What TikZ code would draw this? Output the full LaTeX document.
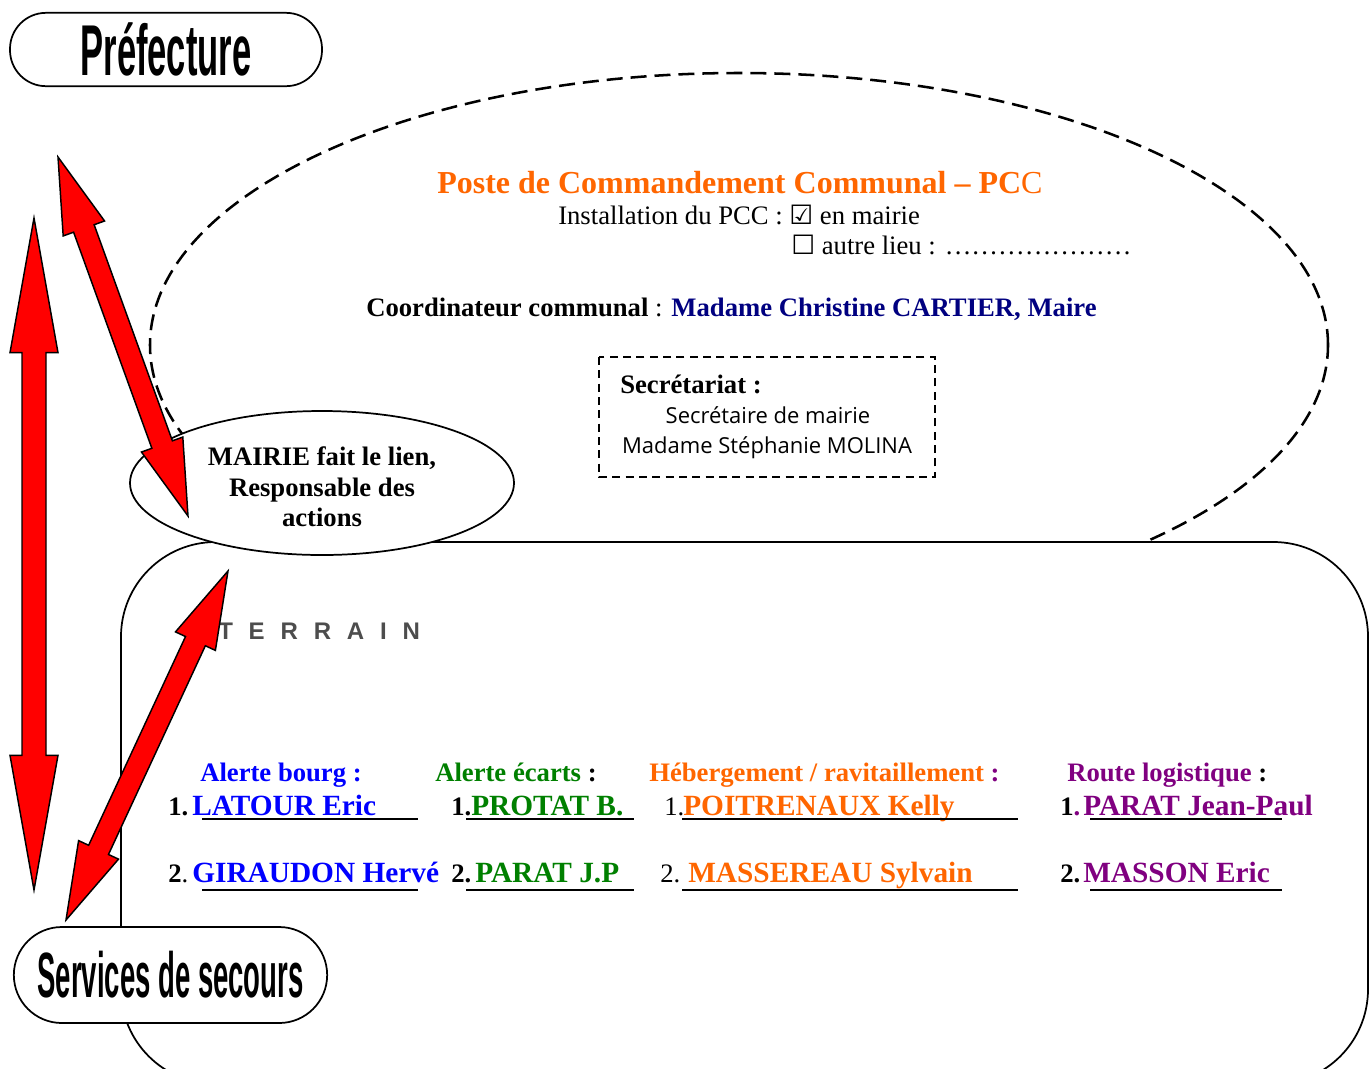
\documentclass[tikz,border=0pt]{standalone}
\usepackage{fontspec}
\setmainfont{Liberation Serif}
\newfontfamily\symf{DejaVu Sans}
\newfontfamily\condA[FakeStretch=0.48]{Liberation Sans}
\newfontfamily\condB[FakeStretch=0.43]{Liberation Sans}
\newfontfamily\comicf{Open Sans}
\newfontfamily\terf[LetterSpace=66]{Liberation Sans}
\usetikzlibrary{shapes.geometric,calc}
\definecolor{pccorange}{RGB}{255,102,0}
\definecolor{pblue}{RGB}{0,0,255}
\definecolor{pgreen}{RGB}{0,128,0}
\definecolor{ppurple}{RGB}{128,0,128}
\definecolor{pnavy}{RGB}{0,0,128}
\definecolor{pred}{RGB}{255,0,0}
\definecolor{pgray}{RGB}{77,77,77}
\newcommand\fsT{\fontsize{24pt}{28pt}\selectfont}
\newcommand\fsI{\fontsize{20pt}{23pt}\selectfont}
\newcommand\fsH{\fontsize{20pt}{23pt}\selectfont}
\newcommand\fsN{\fontsize{22pt}{26pt}\selectfont}
\newcommand\fsBox{\symf\fontsize{20pt}{20pt}\selectfont}
\newcommand{\dblarrow}[5]{%
  \draw[redarrow] (#1)
  -- ($(#1)!#3!(#2)!#4!90:(#2)$)
  -- ($(#1)!#3!(#2)!#5!90:(#2)$)
  -- ($(#2)!#3!(#1)!#5!-90:(#1)$)
  -- ($(#2)!#3!(#1)!#4!-90:(#1)$)
  -- (#2)
  -- ($(#2)!#3!(#1)!#4!90:(#1)$)
  -- ($(#2)!#3!(#1)!#5!90:(#1)$)
  -- ($(#1)!#3!(#2)!#5!-90:(#2)$)
  -- ($(#1)!#3!(#2)!#4!-90:(#2)$)
  -- cycle;}
\begin{document}
\begin{tikzpicture}[x=0.75pt,y=-0.75pt,
  txt/.style={inner sep=0pt, anchor=base west},
  ctxt/.style={inner sep=0pt, anchor=base},
  uline/.style={line width=1.5pt, black},
  redarrow/.style={fill=pred, draw=black, line width=1.1pt, line join=miter},
  pillbox/.style={draw=black, fill=white, line width=1.3pt, inner sep=0pt}]
\useasboundingbox (0,0) rectangle (1371,1068);
\fill[white] (0,0) rectangle (1371,1068);
\clip (0,0) rectangle (1371,1068);

% PCC dashed ellipse
\node[ellipse, draw=black, dashed, dash pattern=on 12pt off 6pt, line width=1.9pt,
  minimum width=883.5pt, minimum height=408pt, inner sep=0pt] (pcc) at (739,345) {};

% Terrain rounded box
\draw[fill=white, line width=1.3pt, rounded corners=71pt] (121,542) rectangle (1368,1084);

% Mairie ellipse
\node[ellipse, draw=black, fill=white, line width=1.3pt, minimum width=288pt,
  minimum height=108pt, inner sep=0pt] (mairie) at (322,483) {};
\node[align=center, font=\fsH\bfseries, inner sep=0pt] (mairietxt)
  at (322,487) {MAIRIE fait le lien,\\Responsable des\\actions};

% Prefecture / Services
\node[pillbox, rounded corners=27pt, minimum width=234pt, minimum height=55pt,
  font=\condA\bfseries\fontsize{54pt}{54pt}\selectfont] (pref) at (166,49.5) {Préfecture};
\node[pillbox, rounded corners=36pt, minimum width=235pt, minimum height=72pt,
  font=\condB\bfseries\fontsize{48pt}{48pt}\selectfont] (secours) at (170.5,975) {Services de secours};

% PCC texts
\node[txt, font=\fsT\bfseries, text=pccorange] (title) at (437,193)
  {Poste de Commandement Communal – PC\textmd{C}};
\node[txt, font=\fsI] (inst1) at (558,224)
  {Installation du PCC : {\fsBox ☑} en mairie};
\node[txt, font=\fsI] (inst2) at (791,254)
  {{\fsBox ☐} autre lieu : …………………};
\node[txt, font=\fsH] (coord) at (366,316)
  {\textbf{Coordinateur communal} : \textcolor{pnavy}{\textbf{Madame Christine CARTIER, Maire}}};

% Secretariat
\draw[dashed, dash pattern=on 6pt off 4pt, line width=1.3pt] (599,357) rectangle (935,477);
\node[txt, font=\fsH\bfseries] (sec) at (620,393) {Secrétariat :};
\node[ctxt, font=\comicf\fontsize{16.5pt}{19pt}\selectfont] (sec1) at (768,423) {Secrétaire de mairie};
\node[ctxt, font=\comicf\fontsize{16.5pt}{19pt}\selectfont] (sec2) at (767,453) {Madame Stéphanie MOLINA};

% Terrain
\node[txt, font=\terf\bfseries\fontsize{18pt}{18pt}\selectfont, text=pgray] (terr) at (218,639) {TERRAIN};

% Headings
\node[txt, font=\fsH\bfseries, text=pblue] (h1) at (200,781) {Alerte bourg :};
\node[txt, font=\fsH\bfseries, text=pgreen] (h2) at (435,781) {Alerte écarts \textcolor{black}{:}};
\node[txt, font=\fsH\bfseries, text=pccorange] (h3) at (649,781) {Hébergement / ravitaillement \textcolor{ppurple}{:}};
\node[txt, font=\fsH\bfseries, text=ppurple] (h4) at (1067,781) {Route logistique \textcolor{black}{:}};

% Row 1
\node[txt, font=\fsH\bfseries] (n11) at (168,815) {1.};
\node[txt, font=\fsN\bfseries, text=pblue] (m11) at (192,815) {LATOUR Eric};
\node[txt, font=\fsH\bfseries] (n21) at (451,815) {1.};
\node[txt, font=\fsN\bfseries, text=pgreen] (m21) at (471,815) {PROTAT B.};
\node[txt, font=\fsH] (n31) at (664,815) {1.};
\node[txt, font=\fsN\bfseries, text=pccorange] (m31) at (683,815) {POITRENAUX Kelly};
\node[txt, font=\fsH\bfseries] (n41) at (1060,815) {1\textcolor{ppurple}{.}};
\node[txt, font=\fsN\bfseries, text=ppurple] (m41) at (1083,815) {PARAT Jean-Paul};
% Row 2
\node[txt, font=\fsH\bfseries] (n12) at (168,882) {2\textmd{.}};
\node[txt, font=\fsN\bfseries, text=pblue] (m12) at (192,882) {GIRAUDON Hervé};
\node[txt, font=\fsH\bfseries] (n22) at (451,882) {2.};
\node[txt, font=\fsN\bfseries, text=pgreen] (m22) at (475,882) {PARAT J.P};
\node[txt, font=\fsH] (n32) at (660,882) {2.};
\node[txt, font=\fsN\bfseries, text=pccorange] (m32) at (688,882) {MASSEREAU Sylvain};
\node[txt, font=\fsH\bfseries] (n42) at (1060,882) {2.};
\node[txt, font=\fsN\bfseries, text=ppurple] (m42) at (1083,882) {MASSON Eric};

% Underlines
\draw[uline] (202,819) -- (418,819);
\draw[uline] (466,819) -- (634,819);
\draw[uline] (682,819) -- (1018,819);
\draw[uline] (1090,819) -- (1282,819);
\draw[uline] (202,890) -- (418,890);
\draw[uline] (466,890) -- (634,890);
\draw[uline] (682,890) -- (1018,890);
\draw[uline] (1090,890) -- (1282,890);

% Arrows
\coordinate (a1s) at (34,218);
\coordinate (a1e) at (34,890);
\coordinate (a2s) at (58,157);
\coordinate (a2e) at (188,516);
\coordinate (a3s) at (228,571);
\coordinate (a3e) at (66,920);
\dblarrow{a1s}{a1e}{101pt}{18pt}{9pt}
\dblarrow{a2s}{a2e}{57pt}{16.5pt}{8.2pt}
\dblarrow{a3s}{a3e}{58pt}{16.5pt}{8.2pt}
\end{tikzpicture}
\end{document}
